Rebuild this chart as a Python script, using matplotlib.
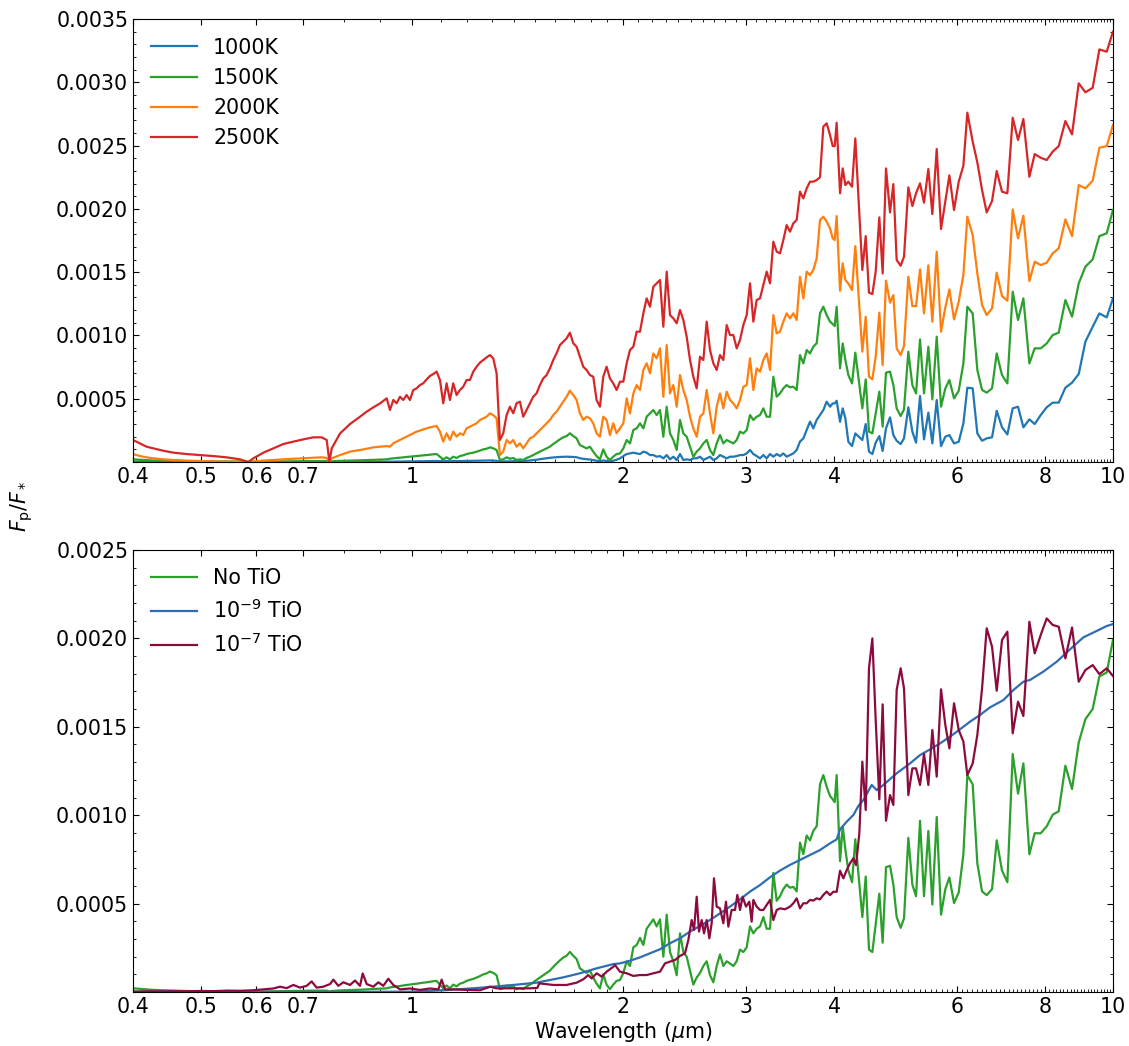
import numpy as np
import matplotlib
matplotlib.use("Agg")
import matplotlib.pyplot as plt
from matplotlib.ticker import FixedLocator, FixedFormatter, MultipleLocator

# --- wavelength grid (um) shared by the temperature spectra ---
wl_grid = [
    # optical
    0.4000, 0.4093, 0.4183, 0.4276, 0.4419, 0.4567, 0.4771, 0.4984, 0.5207, 0.5441,
    0.5684, 0.5842, 0.5939, 0.6138, 0.6342, 0.6554, 0.6773, 0.6999, 0.7233, 0.7435,
    0.7558, 0.7624, 0.7683, 0.7897, 0.8159, 0.8432, 0.8619, 0.8809, 0.9004, 0.9203,
    # near-IR
    0.9303, 0.9406, 0.9509, 0.9614, 0.9719, 0.9826, 0.9934, 1.0044, 1.0154, 1.0266,
    1.0379, 1.0493, 1.0609, 1.0725, 1.0844, 1.0963, 1.1083, 1.1205, 1.1329, 1.1453,
    1.1579, 1.1707, 1.1835, 1.1966, 1.2097, 1.2231, 1.2365, 1.2502, 1.2639, 1.2778,
    1.2919, 1.3061, 1.3205, 1.3350, 1.3497, 1.3646, 1.3796, 1.3948, 1.4101, 1.4257,
    1.4413, 1.4572, 1.4733, 1.4895, 1.5059, 1.5225, 1.5392, 1.5562, 1.5733, 1.5906,
    1.6081, 1.6258, 1.6437, 1.6618, 1.6801, 1.6986, 1.7173, 1.7362, 1.7553, 1.7746,
    1.7942, 1.8139, 1.8339, 1.8541, 1.8745, 1.8951, 1.9160, 1.9371, 1.9584,
    # 2-4 um
    1.9805, 2.0023, 2.0244, 2.0466, 2.0692, 2.0920, 2.1150, 2.1383, 2.1618, 2.1856,
    2.2097, 2.2340, 2.2586, 2.2835, 2.3087, 2.3341, 2.3598, 2.3858, 2.4120, 2.4386,
    2.4655, 2.4926, 2.5200, 2.5478, 2.5758, 2.6042, 2.6329, 2.6618, 2.6911, 2.7208,
    2.7507, 2.7810, 2.8117, 2.8426, 2.8739, 2.9056, 2.9375, 2.9698, 3.0026, 3.0356,
    3.0690, 3.1028, 3.1370, 3.1715, 3.2065, 3.2418, 3.2774, 3.3136, 3.3500, 3.3866,
    3.4240, 3.4617, 3.4998, 3.5384, 3.5773, 3.6166, 3.6565, 3.6968, 3.7374, 3.7786,
    3.8202, 3.8622, 3.9048,
    # 4-10 um
    3.948, 3.983, 4.009, 4.035, 4.080, 4.116, 4.152, 4.193, 4.244, 4.290,
    4.390, 4.439, 4.487, 4.537, 4.587, 4.642, 4.693, 4.745, 4.808, 4.861,
    4.914, 4.979, 5.034, 5.106, 5.174, 5.237, 5.306, 5.376, 5.453, 5.525,
    5.605, 5.685, 5.766, 5.843, 5.933, 6.025, 6.118, 6.198, 6.308, 6.405,
    6.505, 6.605, 6.722, 6.826, 6.946, 7.069, 7.194, 7.321, 7.451, 7.599,
    7.733, 7.887, 8.044, 8.204, 8.368, 8.553, 8.742, 8.936, 9.134, 9.356,
    9.563, 9.797, 10.0,
]

# planet/star flux ratio, units of 1e-4
fp_1000 = [
    0.03, 0.03, 0.02, 0.02, 0.02, 0.02, 0.01, 0.01, 0.01, 0.01, 0.01, 0.00, 0.01, 0.01, 0.01,
    0.01, 0.01, 0.01, 0.01, 0.01, 0.01, 0.00, 0.01, 0.01, 0.01, 0.02, 0.02, 0.02, 0.02, 0.03,
    0.03, 0.03, 0.04, 0.04, 0.04, 0.05, 0.05, 0.05, 0.06, 0.06, 0.06, 0.07, 0.07, 0.08, 0.08,
    0.07, 0.06, 0.07, 0.06, 0.07, 0.07, 0.08, 0.08, 0.09, 0.09, 0.10, 0.10, 0.11, 0.11, 0.12,
    0.12, 0.11, 0.10, 0.03, 0.04, 0.05, 0.05, 0.06, 0.06, 0.07, 0.08, 0.10, 0.12, 0.15, 0.18,
    0.22, 0.26, 0.30, 0.33, 0.36, 0.38, 0.40, 0.41, 0.42, 0.41, 0.40, 0.38, 0.30, 0.25, 0.22,
    0.20, 0.15, 0.10, 0.06, 0.12, 0.08, 0.05, 0.10, 0.18,
    0.29, 0.47, 0.63, 0.68, 0.74, 0.68, 0.63, 0.82, 0.74, 0.55, 0.55, 0.42, 0.47, 0.29, 0.55,
    0.21, 0.42, 0.16, 0.63, 0.16, 0.21, 0.16, 0.29, 0.29, 0.42, 0.16, 0.29, 0.42, 0.16, 0.29,
    0.55, 0.42, 0.29, 0.42, 0.42, 0.47, 0.55, 0.55, 0.68, 0.95, 0.63, 0.47, 0.29, 0.55, 0.29,
    0.63, 0.42, 0.63, 0.47, 0.68, 0.42, 0.55, 0.68, 0.95, 1.61, 1.87, 2.53, 3.19, 2.66, 3.32,
    3.71, 4.11, 4.77,
    4.37, 4.63, 4.63, 4.84, 3.18, 4.24, 3.45, 1.60, 1.26, 2.26, 1.74, 3.00, 0.82, 0.63, 1.53,
    2.05, 0.87, 2.66, 3.53, 2.13, 1.68, 1.42, 1.87, 4.32, 2.40, 1.53, 5.21, 1.79, 3.90, 1.47,
    4.90, 1.26, 2.00, 2.13, 1.47, 1.60, 3.05, 5.87, 5.82, 2.26, 1.68, 1.87, 1.95, 4.05, 2.74,
    2.18, 4.24, 4.37, 2.74, 3.37, 3.00, 3.71, 4.32, 4.69, 4.69, 5.87, 6.27, 6.95, 9.51, 10.69,
    11.74, 11.43, 12.93,
]
fp_1500 = [
    0.21, 0.18, 0.15, 0.12, 0.10, 0.08, 0.06, 0.05, 0.04, 0.03, 0.03, 0.01, 0.02, 0.03, 0.04,
    0.05, 0.06, 0.07, 0.08, 0.08, 0.08, 0.02, 0.06, 0.09, 0.11, 0.13, 0.15, 0.17, 0.19, 0.21,
    0.26, 0.29, 0.32, 0.34, 0.37, 0.40, 0.42, 0.45, 0.47, 0.50, 0.53, 0.55, 0.58, 0.61, 0.63,
    0.42, 0.21, 0.37, 0.21, 0.42, 0.32, 0.47, 0.53, 0.63, 0.69, 0.74, 0.82, 0.90, 1.00, 1.05,
    1.16, 1.08, 0.95, 0.16, 0.21, 0.37, 0.26, 0.32, 0.16, 0.21, 0.16, 0.32, 0.42, 0.55, 0.69,
    0.82, 0.95, 1.08, 1.21, 1.42, 1.61, 1.79, 1.95, 2.05, 2.27, 2.05, 1.87, 1.34, 1.21, 1.08,
    1.21, 0.82, 0.47, 0.21, 1.00, 0.42, 0.16, 0.42, 0.63,
    0.68, 1.08, 1.74, 1.47, 2.53, 2.66, 3.06, 2.66, 3.58, 3.84, 4.11, 3.71, 4.11, 2.00, 4.37,
    2.26, 1.74, 0.95, 3.32, 2.26, 2.00, 1.21, 0.42, 0.82, 1.08, 1.47, 1.74, 0.95, 0.55, 1.47,
    2.13, 1.47, 1.74, 1.61, 1.47, 1.74, 2.40, 2.26, 2.53, 3.71, 3.32, 3.58, 3.71, 4.24, 3.58,
    3.58, 6.74, 5.16, 5.42, 5.82, 6.08, 5.90, 5.95, 5.69, 8.45, 7.80, 8.85, 8.58, 9.11, 9.38,
    11.75, 12.27, 11.61,
    11.09, 10.90, 10.74, 12.27, 7.40, 9.37, 8.06, 6.87, 6.21, 8.64, 4.24, 6.53, 2.40, 2.26, 3.84,
    5.56, 2.79, 7.06, 7.14, 6.08, 4.24, 3.63, 4.16, 8.72, 6.08, 5.42, 9.69, 5.42, 9.11, 4.95,
    9.90, 4.37, 5.82, 6.48, 5.03, 5.63, 7.79, 12.27, 11.74, 7.27, 5.69, 5.48, 5.82, 8.58, 6.87,
    6.21, 13.46, 11.22, 12.93, 7.79, 8.98, 8.98, 9.37, 10.03, 10.22, 12.80, 11.48, 14.11, 15.43, 16.01,
    17.85, 18.07, 19.91,
]
fp_2000 = [
    0.63, 0.47, 0.37, 0.29, 0.21, 0.16, 0.11, 0.08, 0.05, 0.03, 0.03, 0.00, 0.05, 0.11, 0.16,
    0.21, 0.26, 0.29, 0.34, 0.37, 0.32, 0.05, 0.29, 0.55, 0.82, 0.95, 1.05, 1.16, 1.21, 1.26,
    1.21, 1.48, 1.61, 1.74, 1.87, 2.00, 2.13, 2.27, 2.40, 2.48, 2.58, 2.66, 2.74, 2.79, 2.85,
    2.40, 1.61, 2.27, 1.74, 2.40, 2.00, 2.27, 2.13, 2.66, 2.79, 2.92, 3.06, 3.32, 3.45, 3.58,
    3.85, 3.71, 3.45, 0.55, 0.82, 1.74, 1.48, 1.74, 1.21, 1.48, 1.08, 1.48, 1.87, 2.00, 2.27,
    2.53, 2.79, 3.06, 3.32, 3.71, 3.98, 4.37, 4.77, 5.16, 5.64, 5.29, 4.90, 3.85, 3.32, 3.58,
    3.45, 3.06, 2.27, 2.00, 3.58, 3.32, 2.13, 3.06, 2.27,
    2.66, 3.06, 5.03, 3.84, 5.42, 6.08, 5.69, 7.27, 7.80, 7.01, 8.58, 8.19, 8.98, 5.16, 9.24,
    5.42, 6.08, 4.37, 6.87, 5.69, 4.90, 3.58, 2.66, 2.00, 3.58, 3.84, 5.69, 3.84, 2.26, 4.37,
    5.42, 4.24, 5.56, 4.90, 4.63, 4.24, 4.90, 5.95, 6.08, 8.19, 5.69, 7.40, 7.14, 8.06, 8.58,
    7.27, 11.61, 10.17, 10.30, 11.09, 11.75, 11.35, 11.75, 11.22, 14.64, 12.93, 15.04, 14.77, 15.17, 16.09,
    19.12, 19.38, 18.99,
    18.46, 17.67, 17.54, 19.43, 13.53, 15.70, 14.38, 14.11, 13.59, 17.06, 8.72, 11.48, 6.74, 6.53, 8.32,
    11.80, 7.66, 14.33, 12.59, 13.19, 8.98, 8.45, 9.16, 14.64, 12.32, 12.32, 15.22, 11.74, 15.54, 11.09,
    16.62, 10.30, 12.22, 13.64, 11.27, 12.67, 14.77, 19.38, 17.93, 14.90, 12.40, 11.61, 12.14, 14.96, 13.11,
    12.74, 19.96, 17.67, 19.46, 14.30, 15.83, 15.56, 15.75, 16.48, 16.88, 19.17, 17.85, 21.88, 21.62, 22.23,
    24.83, 24.96, 26.62,
]
fp_2500 = [
    1.74, 1.47, 1.21, 1.08, 0.89, 0.74, 0.63, 0.55, 0.47, 0.37, 0.21, 0.00, 0.29, 0.74, 1.08,
    1.42, 1.61, 1.79, 1.95, 1.95, 1.74, 0.03, 1.08, 2.26, 3.00, 3.58, 3.98, 4.32, 4.63, 5.03,
    4.11, 4.90, 4.64, 5.16, 4.90, 5.29, 4.90, 5.69, 5.82, 6.08, 6.22, 6.53, 6.80, 6.95, 7.14,
    6.48, 4.64, 6.22, 4.90, 6.22, 5.29, 5.69, 5.95, 6.48, 6.48, 7.14, 7.53, 7.85, 8.06, 8.27,
    8.45, 8.19, 7.01, 1.74, 2.27, 3.71, 4.37, 3.85, 4.64, 4.77, 3.58, 4.11, 4.64, 5.16, 5.43,
    6.08, 6.61, 6.87, 7.40, 8.06, 8.59, 9.24, 9.51, 9.77, 10.22, 9.38, 9.11, 8.32, 7.53, 7.27,
    6.87, 6.74, 4.90, 4.37, 6.74, 7.53, 6.61, 6.22, 5.69,
    6.35, 6.35, 7.80, 8.85, 9.11, 10.30, 10.30, 11.75, 12.93, 12.27, 13.85, 14.12, 14.38, 10.69, 15.04,
    11.61, 11.35, 10.96, 12.01, 11.22, 9.90, 8.06, 6.74, 5.82, 8.32, 8.06, 11.09, 8.85, 7.80, 7.27,
    8.45, 8.06, 10.82, 10.03, 10.03, 8.98, 9.64, 10.82, 11.61, 14.12, 11.09, 12.80, 12.93, 13.98, 15.04,
    14.12, 17.41, 16.62, 16.49, 17.54, 18.72, 18.20, 18.86, 19.12, 21.36, 20.83, 21.62, 22.15, 22.15, 22.28,
    22.50, 26.50, 26.76,
    25.83, 24.96, 24.96, 26.81, 21.23, 23.20, 21.88, 22.15, 21.75, 25.57, 15.17, 17.85, 13.38, 13.27, 15.04,
    19.33, 14.90, 23.20, 19.72, 21.96, 15.96, 15.51, 16.22, 21.70, 20.22, 21.23, 22.02, 20.49, 23.15, 19.59,
    24.73, 18.41, 20.57, 22.65, 19.91, 22.15, 23.41, 27.60, 25.31, 23.67, 21.49, 19.72, 20.62, 22.99, 21.36,
    21.23, 27.20, 25.44, 27.10, 22.54, 24.33, 24.04, 23.86, 24.52, 24.96, 26.94, 25.89, 29.92, 29.21, 29.57,
    32.60, 32.42, 34.00,
]

# TiO runs (the "No TiO" case is the 1500K spectrum above)
wl_tio9 = [
    0.40, 0.60, 0.80, 1.0045, 1.1206, 1.2502, 1.3949, 1.5061, 1.6440, 1.7365,
    1.8343, 1.9375, 1.9805, 2.0466, 2.1150, 2.1856, 2.2586, 2.3341, 2.4120, 2.4926,
    2.5758, 2.6618, 2.7507, 2.8426, 2.9375, 3.0356, 3.1370, 3.2418, 3.3500, 3.4617,
    3.5773, 3.6968, 3.8202, 3.948, 4.035, 4.080, 4.170, 4.262, 4.333, 4.405,
    4.527, 4.602, 4.704, 4.914, 5.134, 5.306, 5.483, 5.666, 5.855, 6.051,
    6.253, 6.462, 6.678, 6.977, 7.210, 7.451, 7.616, 7.956, 8.313, 8.685,
    9.074, 9.479, 9.797, 10.0,
]
fp_tio9 = [
    0.02, 0.01, 0.01, 0.02, 0.11, 0.24, 0.40, 0.53, 0.83, 1.06,
    1.34, 1.58, 1.62, 1.77, 1.96, 2.19, 2.42, 2.76, 3.04, 3.42,
    3.74, 4.07, 4.45, 4.83, 5.24, 5.68, 6.05, 6.49, 6.87, 7.19,
    7.47, 7.75, 8.03, 8.41, 8.63, 9.20, 9.63, 10.01, 10.52, 10.86,
    11.71, 11.42, 11.71, 12.37, 12.93, 13.40, 13.72, 14.06, 14.44, 14.86,
    15.29, 15.67, 16.10, 16.51, 17.08, 17.55, 17.65, 18.12, 18.68, 19.38,
    20.06, 20.42, 20.70, 20.81,
]
wl_tio7 = [
    0.400, 0.4183, 0.4369, 0.4567, 0.4771, 0.4984, 0.5207, 0.5441, 0.5684, 0.5939,
    0.6138, 0.6342, 0.6483, 0.6626, 0.6773, 0.6923, 0.7076, 0.7193, 0.7311, 0.7473,
    0.7640, 0.7724, 0.7852, 0.7983, 0.8159, 0.8294, 0.8432, 0.8506, 0.8619, 0.8809,
    0.8954, 0.9102, 0.9253, 0.9406, 0.9615, 0.9936, 1.0267, 1.0610, 1.0905, 1.1025,
    1.1146, 1.1454, 1.1967, 1.2503,
    1.2921, 1.3207, 1.3949, 1.4735, 1.5094, 1.5193, 1.5908, 1.6622, 1.7177, 1.7557,
    1.7848, 1.8045, 1.8343, 1.8647, 1.8956, 1.9375, 1.9482,
    1.9805, 2.0243, 2.0691, 2.1150, 2.1618, 2.2097, 2.2586, 2.2960, 2.3341, 2.3727,
    2.4120, 2.4519, 2.4789, 2.5062, 2.5255, 2.5478, 2.5673, 2.5899, 2.6098, 2.6329,
    2.6559, 2.6763, 2.6969, 2.7208, 2.7507, 2.7810, 2.8053, 2.8269, 2.8580, 2.8895,
    2.9117, 2.9375, 2.9631, 2.9958, 3.0288, 3.0520, 3.0690, 3.1028, 3.1370, 3.1715,
    3.2065, 3.2418, 3.2774, 3.3136, 3.3500, 3.4054, 3.4617, 3.4998, 3.5384, 3.5773,
    3.6166, 3.6565, 3.6968, 3.7374, 3.7786, 3.8202, 3.8622, 3.9048,
    3.948, 3.991, 4.035, 4.080, 4.125, 4.170, 4.216, 4.262, 4.300, 4.347,
    4.390, 4.439, 4.487, 4.537, 4.587, 4.642, 4.693, 4.745, 4.808, 4.861,
    4.914, 4.979, 5.034, 5.106, 5.174, 5.237, 5.306, 5.376, 5.453, 5.525,
    5.605, 5.685, 5.766, 5.843, 5.933, 6.025, 6.118, 6.198, 6.308, 6.405,
    6.505, 6.605, 6.722, 6.826, 6.946, 7.069, 7.194, 7.321, 7.451, 7.599,
    7.733, 7.887, 8.044, 8.204, 8.368, 8.553, 8.742, 8.936, 9.134, 9.356,
    9.563, 9.797, 10.0,
]
fp_tio7 = [
    0.02, 0.04, 0.03, 0.05, 0.04, 0.06, 0.05, 0.08, 0.07, 0.10,
    0.15, 0.20, 0.30, 0.22, 0.40, 0.25, 0.35, 0.60, 0.25, 0.30,
    0.45, 0.70, 0.35, 0.55, 0.40, 0.65, 0.35, 1.05, 0.45, 0.30,
    0.55, 0.35, 0.75, 0.40, 0.15, 0.20, 0.12, 0.20, 0.15, 0.70,
    0.15, 0.15, 0.12, 0.10,
    0.30, 0.21, 0.21, 0.21, 0.23, 0.49, 0.40, 0.40, 0.53, 0.72,
    0.96, 0.77, 1.06, 0.87, 1.15, 1.43, 1.53,
    1.15, 1.06, 0.91, 0.96, 0.96, 1.06, 1.15, 1.62, 1.72, 1.81,
    2.04, 2.19, 2.94, 4.07, 3.51, 5.39, 3.42, 4.07, 3.32, 4.07,
    3.04, 3.89, 6.43, 4.83, 4.73, 3.89, 5.11, 3.70, 4.64, 4.64,
    5.49, 4.64, 5.39, 4.83, 5.11, 3.98, 5.21, 4.83, 4.64, 4.64,
    4.92, 5.21, 4.07, 4.64, 4.73, 4.68, 4.83, 5.02, 5.30, 4.73,
    5.02, 5.02, 5.21, 5.17, 5.30, 5.24, 5.49, 5.68,
    5.48, 5.67, 5.67, 6.86, 6.43, 6.90, 7.28, 7.56, 7.18, 8.97,
    13.03, 10.29, 18.31, 20.00, 15.38, 10.90, 16.27, 9.69, 11.14, 10.58,
    17.08, 18.31, 17.17, 11.14, 12.65, 12.65, 11.71, 13.46, 11.71, 14.82,
    12.18, 17.12, 15.10, 13.78, 16.33, 14.82, 14.16, 12.27, 12.93, 14.54,
    17.17, 20.57, 19.53, 17.04, 19.91, 20.38, 14.63, 16.42, 15.61, 20.94,
    19.15, 20.19, 21.13, 20.76, 20.66, 18.87, 20.62, 17.55, 18.21, 18.49,
    17.98, 18.31, 17.87,
]

temp_labels = ["1000K", "1500K", "2000K", "2500K"]
tio_labels = ["No TiO", r"$10^{-9}$ TiO", r"$10^{-7}$ TiO"]
xtick_vals = [0.4, 0.5, 0.6, 0.7, 1, 2, 3, 4, 6, 8, 10]
xtick_text = ["0.4", "0.5", "0.6", "0.7", "1", "2", "3", "4", "6", "8", "10"]

plt.rcParams['font.size'] = 14.8
plt.rcParams['xtick.direction'] = 'in'
plt.rcParams['ytick.direction'] = 'in'
plt.rcParams['xtick.top'] = True
plt.rcParams['ytick.right'] = True
plt.rcParams['lines.linewidth'] = 1.6

fig = plt.figure(figsize=(11.29, 10.46), dpi=100)
ax1 = fig.add_axes((0.1178, 0.5583, 0.8680, 0.4235))
ax2 = fig.add_axes((0.1178, 0.0516, 0.8680, 0.4226))

wl = np.array(wl_grid)
for fp, lab, c in zip([fp_1000, fp_1500, fp_2000, fp_2500], temp_labels,
                      ["#1f77b4", "#2ca02c", "#ff7f0e", "#d62728"]):
    ax1.plot(wl, np.array(fp) * 1e-4, color=c, label=lab)

ax2.plot(wl, np.array(fp_1500) * 1e-4, color="#2ca02c", label=tio_labels[0])
ax2.plot(wl_tio9, np.array(fp_tio9) * 1e-4, color="#2f6db3", label=tio_labels[1])
ax2.plot(wl_tio7, np.array(fp_tio7) * 1e-4, color="#8c0b3e", label=tio_labels[2])

minor_x = [m for m in np.round(np.arange(0.4, 10.001, 0.1), 1) if m not in xtick_vals]
for ax, ytop in [(ax1, 0.0035), (ax2, 0.0025)]:
    ax.set_xscale("log")
    ax.set_xlim(0.4, 10)
    ax.set_ylim(0, ytop)
    ax.xaxis.set_major_locator(FixedLocator(xtick_vals))
    ax.xaxis.set_major_formatter(FixedFormatter(xtick_text))
    ax.xaxis.set_minor_locator(FixedLocator(minor_x))
    ax.xaxis.set_minor_formatter(FixedFormatter([]))
    ax.set_yticks(np.arange(0.0005, ytop + 1e-6, 0.0005))
    ax.set_yticklabels(["%.4f" % v for v in np.arange(0.0005, ytop + 1e-6, 0.0005)])
    ax.yaxis.set_minor_locator(MultipleLocator(0.0001))
    ax.tick_params(which="both", top=True, right=True)
    ax.tick_params(which="major", length=4.5)
    ax.tick_params(which="minor", length=2.5)
    ax.legend(loc="upper left", frameon=False, handlelength=2.2)

ax2.set_xlabel(r"Wavelength ($\mu$m)", labelpad=2)
fig.text(0.0195, 0.5163, r"$F_{\rm p}/F_*$", rotation=90, ha="center", va="center")

fig.savefig("out.png", dpi=100)
